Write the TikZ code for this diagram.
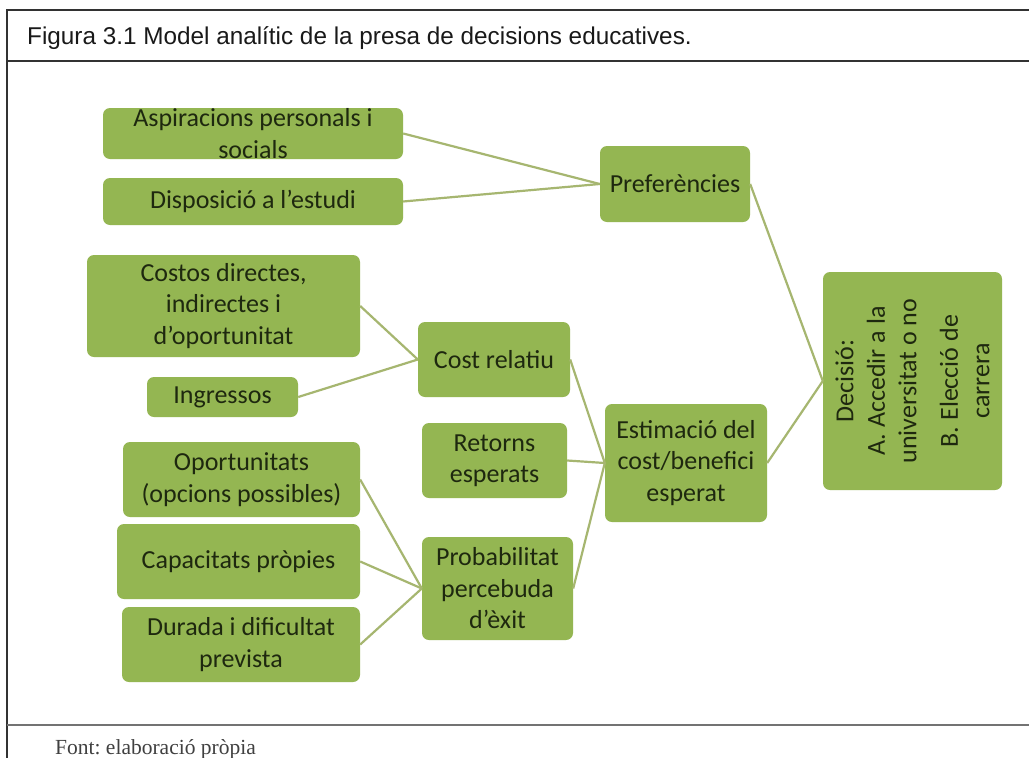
\documentclass[tikz,border=0pt]{standalone}
\usepackage{fontspec}
\setmainfont{Carlito}
\newfontfamily\titlefont{Liberation Sans}
\newfontfamily\footfont{Liberation Serif}
\definecolor{boxgreen}{RGB}{148,182,82}
\definecolor{boxtext}{RGB}{30,40,15}
\definecolor{linkgreen}{RGB}{166,182,112}
\definecolor{framegray}{RGB}{50,50,50}
\frenchspacing
\begin{document}
\begin{tikzpicture}[x=1pt,y=-1pt,
  gbox/.style={draw=none,fill=boxgreen,rounded corners=7pt,inner sep=0pt,align=center,
    text=boxtext,font=\fontsize{26}{31.5}\selectfont},
  link/.style={draw=linkgreen,line width=2.2pt},
  frame/.style={draw=framegray,line width=1.4pt}]
\useasboundingbox (0,0) rectangle (1029,758);
\fill[white] (0,0) rectangle (1029,758);
% frame
\coordinate (fTL) at (7,10);
\coordinate (fTR) at (1029,10);
\coordinate (fML) at (7,61);
\coordinate (fMR) at (1029,61);
\coordinate (fBL) at (7,725);
\coordinate (fBR) at (1029,725);
\coordinate (fEnd) at (7,758);
\draw[frame] (fTR) -- (fTL) -- (fEnd);
\draw[frame] (fML) -- (fMR);
\draw[draw=gray!90!black,line width=1.4pt] (fBL) -- (fBR);
\node[anchor=base west,inner sep=0pt,text=black!90,font=\titlefont\fontsize{24.3}{28}\selectfont] (title) at (27,44)
  {Figura 3.1 Model analític de la presa de decisions educatives.};
\node[anchor=base west,inner sep=0pt,text=black!75,font=\footfont\fontsize{21.5}{26}\selectfont] (foot) at (55,754)
  {Font: elaboració pròpia};
% boxes
\node[gbox,minimum width=300pt,minimum height=51pt] (asp) at (253,133.5) {Aspiracions personals i\\socials};
\node[gbox,minimum width=300pt,minimum height=47pt] (disp) at (253,201.5) {Disposició a l’estudi};
\node[gbox,minimum width=150pt,minimum height=76pt] (pref) at (675,184) {Preferències};
\node[gbox,minimum width=273pt,minimum height=102pt] (cost) at (223.5,306) {Costos directes,\\indirectes i\\d’oportunitat};
\node[gbox,minimum width=151pt,minimum height=40pt] (ingr) at (222.5,397) {Ingressos};
\node[gbox,minimum width=152pt,minimum height=75pt] (costrel) at (494,359.5) {Cost relatiu};
\node[gbox,minimum width=145pt,minimum height=75pt] (ret) at (494.5,460.5) {Retorns\\esperats};
\node[gbox,minimum width=237pt,minimum height=75pt] (oport) at (241.5,479.5) {Oportunitats\\(opcions possibles)};
\node[gbox,minimum width=243pt,minimum height=75pt] (capac) at (238.5,561.5) {Capacitats pròpies};
\node[gbox,minimum width=151pt,minimum height=103pt] (prob) at (497.5,588.5) {Probabilitat\\percebuda\\d’èxit};
\node[gbox,minimum width=238pt,minimum height=75pt] (dur) at (241,644.5) {Durada i dificultat\\prevista};
\node[gbox,minimum width=162pt,minimum height=118pt] (estim) at (686,463) {Estimació del\\cost/benefici\\esperat};
\node[gbox,minimum width=179pt,minimum height=218pt] (dec) at (912.5,381) {};
\node[rotate=90,inner sep=0pt,align=center,text=boxtext,font=\fontsize{26}{31.5}\selectfont] (dectext) at (dec.center)
  {Decisió:\\A. Accedir a la\\universitat o no\\[10pt]B. Elecció de\\carrera};
% links
\draw[link] (asp.east) -- (pref.west);
\draw[link] (disp.east) -- (pref.west);
\draw[link] (pref.east) -- (dec.west);
\draw[link] (cost.east) -- (costrel.west);
\draw[link] (ingr.east) -- (costrel.west);
\draw[link] (costrel.east) -- (estim.west);
\draw[link] (ret.east) -- (estim.west);
\draw[link] (prob.east) -- (estim.west);
\draw[link] (estim.east) -- (dec.west);
\draw[link] (oport.east) -- (prob.west);
\draw[link] (capac.east) -- (prob.west);
\draw[link] (dur.east) -- (prob.west);
\end{tikzpicture}
\end{document}
